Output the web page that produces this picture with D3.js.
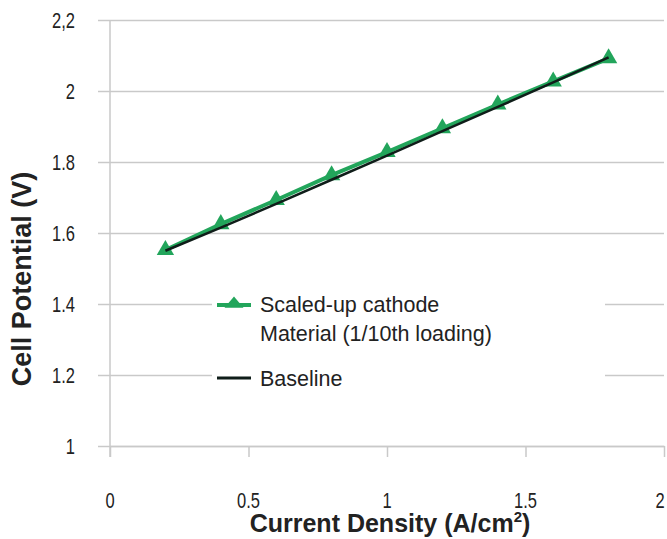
<!DOCTYPE html>
<html>
<head>
<meta charset="utf-8">
<script src="https://cdn.jsdelivr.net/npm/d3@7"></script>
<style>
  body { margin: 0; background: #fff; }
  .tick-label { font-family: "Liberation Sans", Arial, sans-serif; font-size: 22px; fill: #222; }
  .legend-text { font-family: "Liberation Sans", Arial, sans-serif; font-size: 21.5px; fill: #222; }
  .axis-title { font-family: "Liberation Sans", Arial, sans-serif; font-weight: bold; fill: #222; }
</style>
</head>
<body>
<svg width="667" height="539"></svg>
<script>
var svg = d3.select("svg"),
    width = +svg.attr("width"),
    height = +svg.attr("height");

// current density (A/cm2)
var currentDensity = [0.2, 0.4, 0.6, 0.8, 1.0, 1.2, 1.4, 1.6, 1.8];
// scaled-up cathode, 1/10th loading
var scaledUp = [1.552, 1.625, 1.693, 1.763, 1.828, 1.895, 1.962, 2.027, 2.092];
var baseline = [1.550, 1.615, 1.682, 1.750, 1.818, 1.887, 1.955, 2.024, 2.095];

var xTicks = [0, 0.5, 1, 1.5, 2];
var xTickLabels = ["0", "0.5", "1", "1.5", "2"];
var yTicks = [1, 1.2, 1.4, 1.6, 1.8, 2, 2.2];
var yTickLabels = ["1", "1.2", "1.4", "1.6", "1.8", "2", "2,2"];

var seriesNames = ["Scaled-up cathode", "Material (1/10th loading)", "Baseline"];

var green = "#22a55b",
    dark = "#0f1d19",
    gridColor = "#c9c9c9";

var x = d3.scaleLinear()
    .domain([0, 2])
    .range([110, 664]);

var y = d3.scaleLinear()
    .domain([1, 2.2])
    .range([446, 20]);

// gridlines, with the little tick sticking out left of the axis
svg.append("g")
    .attr("transform", "translate(" + x.range()[1] + ",0)")
    .call(d3.axisLeft(y).tickValues(yTicks).tickSize(x.range()[1] - x.range()[0] + 12).tickFormat(""))
    .call(function(g) {
      g.select(".domain").remove();
      g.selectAll("line").attr("stroke", gridColor).attr("stroke-width", 1.5);
    });

// y axis line
svg.append("line")
    .attr("x1", x(0)).attr("x2", x(0))
    .attr("y1", y(2.2)).attr("y2", y(1) + 11)
    .attr("stroke", gridColor).attr("stroke-width", 1.5);

// x axis
svg.append("g")
    .attr("transform", "translate(0," + y(1) + ")")
    .call(d3.axisBottom(x).tickValues(xTicks).tickSize(11).tickSizeOuter(0).tickFormat(""))
    .call(function(g) {
      g.select(".domain").attr("stroke", gridColor).attr("stroke-width", 1.5);
      g.selectAll("line").attr("stroke", gridColor).attr("stroke-width", 1.5);
    });

// tick labels (narrow look: squeeze horizontally)
svg.append("g")
    .selectAll("text")
    .data(xTicks)
    .enter().append("text")
      .attr("class", "tick-label")
      .attr("transform", function(d) {
        return "translate(" + Math.min(x(d), width - 7) + ",508) scale(0.75,1)";
      })
      .attr("text-anchor", "middle")
      .text(function(d, i) { return xTickLabels[i]; });

svg.append("g")
    .selectAll("text")
    .data(yTicks)
    .enter().append("text")
      .attr("class", "tick-label")
      .attr("transform", function(d) { return "translate(75," + y(d) + ") scale(0.75,1)"; })
      .attr("dy", "0.36em")
      .attr("text-anchor", "end")
      .text(function(d, i) { return yTickLabels[i]; });

// axis titles
var xTitle = svg.append("text")
    .attr("class", "axis-title")
    .attr("x", 390)
    .attr("y", 532)
    .attr("text-anchor", "middle")
    .style("font-size", "25px");
xTitle.append("tspan").text("Current Density (A/cm");
xTitle.append("tspan").attr("dy", -10).style("font-size", "15px").text("2");
xTitle.append("tspan").attr("dy", 10).text(")");

svg.append("text")
    .attr("class", "axis-title")
    .attr("transform", "translate(31,279) rotate(-90)")
    .attr("text-anchor", "middle")
    .style("font-size", "27px")
    .text("Cell Potential (V)");

// series
var line = d3.line()
    .x(function(d) { return x(d[0]); })
    .y(function(d) { return y(d[1]); });

var triangle = d3.symbol().type(d3.symbolTriangle).size(130);

svg.append("path")
    .datum(d3.zip(currentDensity, scaledUp))
    .attr("fill", "none")
    .attr("stroke", green)
    .attr("stroke-width", 4)
    .attr("d", line);

svg.append("g")
    .selectAll("path")
    .data(d3.zip(currentDensity, scaledUp))
    .enter().append("path")
      .attr("transform", function(d) { return "translate(" + x(d[0]) + "," + y(d[1]) + ")"; })
      .attr("d", triangle)
      .attr("fill", green);

svg.append("path")
    .datum(d3.zip(currentDensity, baseline))
    .attr("fill", "none")
    .attr("stroke", dark)
    .attr("stroke-width", 2.5)
    .attr("d", line);

// legend
var legend = svg.append("g");

legend.append("rect")
    .attr("x", 212).attr("y", 287)
    .attr("width", 393).attr("height", 108)
    .attr("fill", "#fff");

legend.append("line")
    .attr("x1", 217).attr("x2", 251)
    .attr("y1", 305).attr("y2", 305)
    .attr("stroke", green).attr("stroke-width", 4);

legend.append("path")
    .attr("transform", "translate(234,304) scale(1.1,0.75)")
    .attr("d", triangle)
    .attr("fill", green);

legend.append("line")
    .attr("x1", 217).attr("x2", 251)
    .attr("y1", 378).attr("y2", 378)
    .attr("stroke", dark).attr("stroke-width", 3);

legend.selectAll("text")
    .data(seriesNames)
    .enter().append("text")
      .attr("class", "legend-text")
      .attr("x", 260)
      .attr("y", function(d, i) { return [312, 341, 386][i]; })
      .text(function(d) { return d; });
</script>
</body>
</html>
